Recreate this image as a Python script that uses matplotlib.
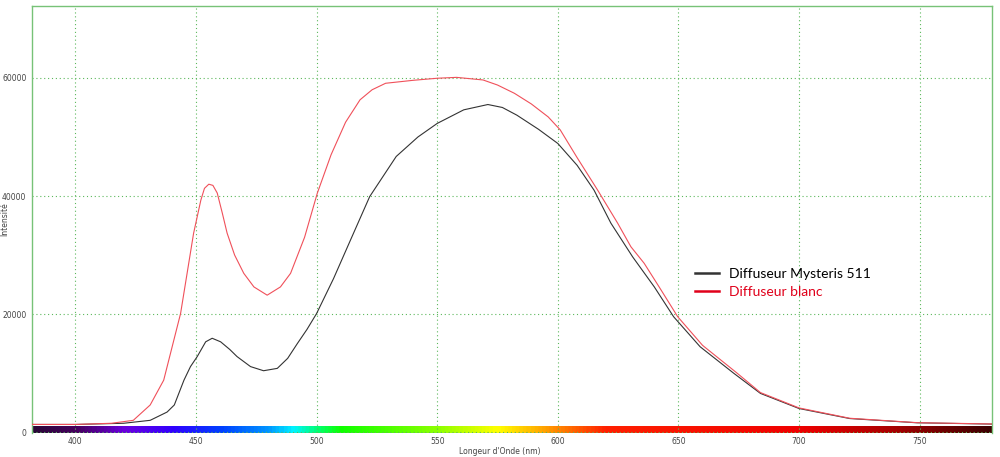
import numpy as np
import matplotlib
matplotlib.use('Agg')
import matplotlib.pyplot as plt
from matplotlib.colors import LinearSegmentedColormap

# Spectra (wavelength nm, intensity)
nm_black = [382, 400, 420, 431, 438, 441, 445, 447.7, 450.5, 454, 456.7, 460.2, 464, 467, 472.6, 478, 483.7, 488, 492,
            496, 500, 507, 514, 522, 533, 542, 550, 561, 571, 577, 583, 592, 600, 608, 615, 622,
            631, 640, 648, 659, 673, 684, 700, 721, 749, 780]
int_black = [1300, 1300, 1500, 2000, 3400, 4600, 8800, 11100, 12800, 15300, 15900, 15300, 14000, 12800, 11100, 10400, 10800, 12500, 15000,
             17400, 20100, 26000, 32500, 39900, 46700, 50000, 52300, 54600, 55500, 55000, 53700, 51300, 48900, 45200, 41000, 35400,
             29700, 24600, 19550, 14460, 9950, 6560, 4000, 2300, 1580, 1360]

nm_red = [382, 400, 415, 424, 431, 436.6, 443.6, 449, 452, 453.5, 455.3, 457, 458.8, 460.9, 462.9, 466, 469.8, 474, 479.5,
          485, 489.2, 495, 500.3, 506, 512, 518, 523, 528.6, 540, 550, 558, 569, 575, 582, 589, 596, 601,
          608, 616.5, 624.8, 630.3, 635.8, 642, 649.7, 660, 674, 684, 700, 721, 749, 780]
int_red = [1300, 1300, 1500, 2000, 4600, 8800, 20100, 33700, 39300, 41300, 42000, 41800, 40500, 37100, 33700, 30000, 26900, 24600, 23200,
           24600, 26900, 33000, 40500, 47000, 52500, 56300, 58000, 59100, 59600, 59950, 60100, 59660, 58800, 57400, 55600, 53400, 51200,
           46500, 41000, 35400, 31400, 28600, 24600, 19550, 14700, 10100, 6700, 4100, 2350, 1600, 1380]

x_ticks = [400, 450, 500, 550, 600, 650, 700, 750]
y_ticks = [0, 20000, 40000, 60000]

# colour stops of the spectrum strip under the curves
strip_nm = [382, 400, 420, 440, 460, 480, 490, 500, 510, 550, 575, 595, 620, 700, 740, 780]
strip_col = ['#2a0838', '#46005f', '#6a00e0', '#3000ff', '#0040ff', '#0098ff', '#00f4ff', '#00ff70',
             '#10ff00', '#8cff00', '#ffff00', '#ffa000', '#ff2000', '#f00000', '#a80000', '#3c0000']

xmin, xmax = 382, 780
ymin, ymax = -150, 72200
grid_green = '#5cb85c'

fig = plt.figure(figsize=(10, 4.57), dpi=100)
ax = fig.add_axes([0.032, 0.0525, 0.96, 0.9345])

# spectrum strip
pos = [(v - xmin) / (xmax - xmin) for v in strip_nm]
cmap = LinearSegmentedColormap.from_list('spec', list(zip(pos, strip_col)))
ax.imshow(np.linspace(0, 1, 800)[None, :], cmap=cmap, aspect='auto',
          extent=[xmin, xmax, ymin, 1000], zorder=1)

ax.plot(nm_black, int_black, color='#333333', lw=0.8, zorder=3, label='Diffuseur Mysteris 511')
ax.plot(nm_red, int_red, color='#f0505a', lw=0.8, zorder=3, label='Diffuseur blanc')

ax.set_xlim(xmin, xmax)
ax.set_ylim(ymin, ymax)
ax.set_xticks(x_ticks)
ax.set_yticks(y_ticks)
ax.grid(True, color=grid_green, linestyle=(0, (1, 2.5)), lw=0.8, zorder=0)
ax.tick_params(length=0, labelsize=5.5, labelcolor='#444444')
ax.tick_params(axis='x', pad=3)
ax.tick_params(axis='y', pad=4)
for side in ['left', 'top', 'right']:
    ax.spines[side].set_color('#77c277')
    ax.spines[side].set_linewidth(1)
ax.spines['bottom'].set_visible(False)

ax.set_xlabel("Longeur d'Onde (nm)", fontsize=5.5, color='#444444')
ax.set_ylabel('Intensité', fontsize=5.5, color='#444444')
ax.xaxis.set_label_coords(0.487, -0.032)
ax.yaxis.set_label_coords(-0.0235, 0.5)

leg = ax.legend(loc='upper left', bbox_to_anchor=(0.678, 0.416), frameon=False,
                prop={'family': 'Lato', 'size': 10}, handlelength=1.7, handletextpad=0.7,
                labelspacing=0.45)
for line in leg.get_lines():
    line.set_linewidth(1.8)
leg.get_lines()[1].set_color('#e0001a')
leg.get_texts()[1].set_color('#e0001a')

fig.savefig('out.png', dpi=100)
